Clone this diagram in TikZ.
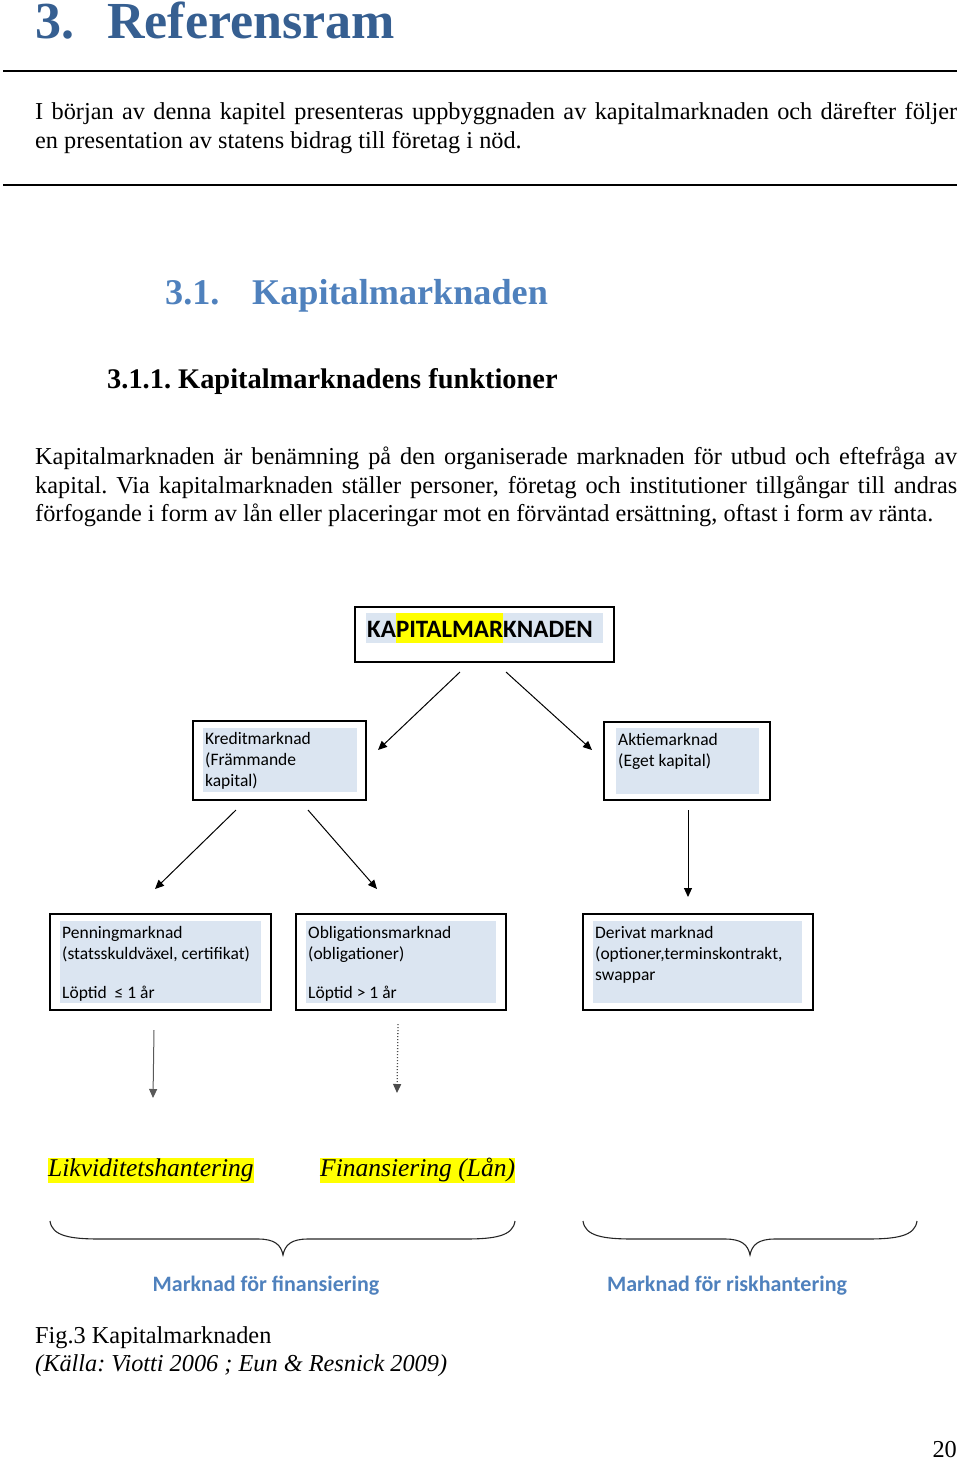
\documentclass[tikz,border=0pt]{standalone}
\usepackage{fontspec}
\setmainfont{Liberation Serif}
\newfontfamily\calfont{Carlito}
\usetikzlibrary{arrows.meta,fit}
\frenchspacing
\definecolor{hone}{HTML}{365F91}
\definecolor{htwo}{HTML}{4F81BD}
\definecolor{shadeblue}{HTML}{DBE5F1}
\definecolor{mblue}{HTML}{4F81BD}
\definecolor{hlyellow}{HTML}{FFFF00}
\newcommand\hlpart[1]{{\setlength\fboxsep{0pt}\colorbox{hlyellow}{\rule[-6pt]{0pt}{30pt}#1}}}
\begin{document}
\begin{tikzpicture}[x=1pt,y=-1pt,
  body/.style={anchor=base west, inner sep=0pt, font=\fontsize{24.3}{29}\selectfont},
  hdone/.style={anchor=base west, inner sep=0pt, font=\fontsize{52}{60}\selectfont\bfseries, text=hone},
  hdtwo/.style={anchor=base west, inner sep=0pt, font=\fontsize{36.2}{42}\selectfont\bfseries, text=htwo},
  hdthree/.style={anchor=base west, inner sep=0pt, font=\fontsize{28.4}{34}\selectfont\bfseries},
  outerbox/.style={draw=black, line width=1.4pt, fill=white, inner sep=0pt},
  shadebox/.style={fill=shadeblue, draw=none, inner sep=0pt},
  dtext/.style={anchor=base west, inner sep=0pt, font=\calfont\fontsize{17.5}{21}\selectfont},
  arr/.style={line width=1pt, -{Triangle[length=9pt,width=8pt]}},
  rule/.style={line width=2pt},
  brace/.style={line width=1.1pt, draw=black!85},
  hand/.style={fill=hlyellow, inner xsep=0pt, inner ysep=0pt, minimum height=25pt, anchor=west, font=\fontsize{25.5}{28}\selectfont\itshape},
  marklabel/.style={font=\calfont\bfseries\fontsize{22}{26}\selectfont, text=mblue, inner sep=0pt}
]
\useasboundingbox (0,0) rectangle (960,1460);

% Headings and text
\node[hdone] (h1num) at (35,38) {3.};
\node[hdone] (h1txt) at (107,38) {Referensram};
\coordinate (r1a) at (3,71); \coordinate (r1b) at (957,71);
\draw[rule] (r1a) -- (r1b);
\node[body] (in1) at (35,119) {\makebox[922pt][s]{I början av denna kapitel presenteras uppbyggnaden av kapitalmarknaden och därefter följer}};
\node[body] (in2) at (35,148) {en presentation av statens bidrag till företag i nöd.};
\coordinate (r2a) at (3,185); \coordinate (r2b) at (957,185);
\draw[rule] (r2a) -- (r2b);

\node[hdtwo] (h2num) at (165,304) {3.1.};
\node[hdtwo] (h2txt) at (252,304) {Kapitalmarknaden};
\node[hdthree] (h3) at (107,388) {3.1.1. Kapitalmarknadens funktioner};

\node[body] (p1) at (35,464) {\makebox[922pt][s]{Kapitalmarknaden är benämning på den organiserade marknaden för utbud och eftefråga av}};
\node[body] (p2) at (35,493) {\makebox[922pt][s]{kapital. Via kapitalmarknaden ställer personer, företag och institutioner tillgångar till andras}};
\node[body] (p3) at (35,521) {förfogande i form av lån eller placeringar mot en förväntad ersättning, oftast i form av ränta.};

% Diagram boxes
\node[outerbox, fit={(355,607)(614,662)}] (kap) {};
\node[shadebox, fit={(366,613)(603,643)}] (kapbg) {};
\node[anchor=base west, inner sep=0pt, font=\calfont\bfseries\fontsize{25}{30}\selectfont] (kaptxt) at (367,637) {KA\hlpart{PITALMAR}KNADEN};

\node[outerbox, fit={(193,721)(366,800)}] (kredit) {};
\node[shadebox, fit={(203,728)(357,792)}] (kreditbg) {};
\node[dtext] (kr1) at (205,744) {Kreditmarknad};
\node[dtext] (kr2) at (205,765) {(Främmande};
\node[dtext] (kr3) at (205,786) {kapital)};

\node[outerbox, fit={(604,722)(770,800)}] (aktie) {};
\node[shadebox, fit={(616,728)(759,794)}] (aktiebg) {};
\node[dtext] (ak1) at (618,745) {Aktiemarknad};
\node[dtext] (ak2) at (618,766) {(Eget kapital)};

\node[outerbox, fit={(50,914)(271,1010)}] (penning) {};
\node[shadebox, fit={(60,921)(261,1003)}] (penningbg) {};
\node[dtext] (pe1) at (62,938) {Penningmarknad};
\node[dtext] (pe2) at (62,959) {(statsskuldväxel, certifikat)};
\node[dtext] (pe3) at (62,998) {Löptid \ ≤ 1 år};

\node[outerbox, fit={(296,914)(506,1010)}] (oblig) {};
\node[shadebox, fit={(306,921)(496,1003)}] (obligbg) {};
\node[dtext] (ob1) at (308,938) {Obligationsmarknad};
\node[dtext] (ob2) at (308,959) {(obligationer)};
\node[dtext] (ob3) at (308,998) {Löptid > 1 år};

\node[outerbox, fit={(583,914)(813,1010)}] (deriv) {};
\node[shadebox, fit={(593,921)(802,1003)}] (derivbg) {};
\node[dtext] (de1) at (595,938) {Derivat marknad};
\node[dtext] (de2) at (595,959) {(optioner,terminskontrakt,};
\node[dtext] (de3) at (595,980) {swappar};

% Arrows
\coordinate (a1s) at (460,672); \coordinate (a1e) at (378,750);
\coordinate (a2s) at (506,672); \coordinate (a2e) at (592,750);
\coordinate (a3s) at (236,810); \coordinate (a3e) at (155,889);
\coordinate (a4s) at (308,810); \coordinate (a4e) at (377,889);
\coordinate (a5s) at (688,810); \coordinate (a5e) at (688,897);
\coordinate (a6s) at (154,1030); \coordinate (a6e) at (153,1098);
\coordinate (a7s) at (398,1024); \coordinate (a7e) at (397,1093);
\draw[arr] (a1s) -- (a1e);
\draw[arr] (a2s) -- (a2e);
\draw[arr] (a3s) -- (a3e);
\draw[arr] (a4s) -- (a4e);
\draw[arr] (a5s) -- (a5e);
\draw[arr, draw=black!65] (a6s) -- (a6e);
\draw[arr, draw=black!70, dotted, line width=1.3pt] (a7s) -- (a7e);

% Handwritten labels
\node[hand] (likv) at (48,1170) {Likviditetshantering};
\node[hand] (finans) at (320,1170) {Finansiering (Lån)};

% Braces
\draw[brace] (50,1221) .. controls (52,1236) and (70,1239) .. (100,1239) -- (258,1239)
  .. controls (275,1239) and (281,1245) .. (283,1255)
  .. controls (285,1245) and (291,1239) .. (308,1239) -- (465,1239)
  .. controls (495,1239) and (513,1236) .. (515,1221);
\draw[brace] (583,1221) .. controls (585,1236) and (603,1239) .. (633,1239) -- (725,1239)
  .. controls (742,1239) and (748,1245) .. (750,1255)
  .. controls (752,1245) and (758,1239) .. (775,1239) -- (867,1239)
  .. controls (897,1239) and (915,1236) .. (917,1221);

\node[marklabel] (mfin) at (266,1286) {Marknad för finansiering};
\node[marklabel] (mrisk) at (727,1286) {Marknad för riskhantering};

% Caption
\node[body] (cap1) at (35,1343) {Fig.3 Kapitalmarknaden};
\node[body] (cap2) at (35,1371) {\itshape (Källa: Viotti 2006 ; Eun \& Resnick 2009)};
\node[anchor=base east, inner sep=0pt, font=\fontsize{24.3}{29}\selectfont] (pnum) at (957,1457) {20};
\end{tikzpicture}
\end{document}
